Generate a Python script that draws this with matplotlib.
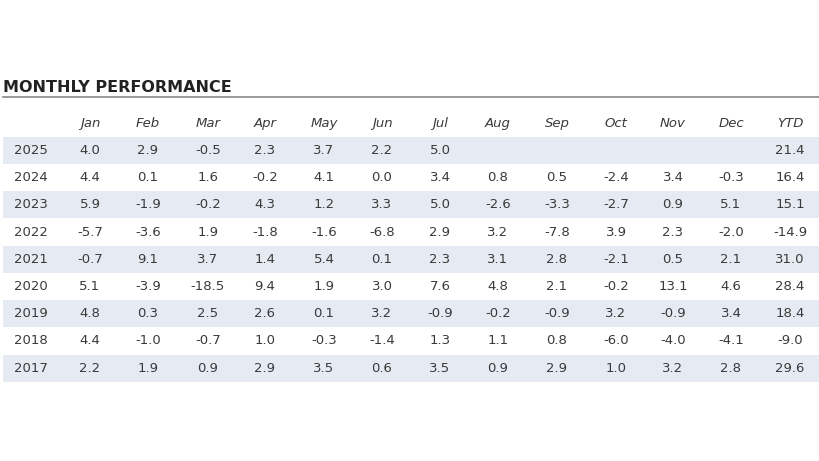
import matplotlib.pyplot as plt
from matplotlib.patches import Rectangle

months = ["Jan","Feb","Mar","Apr","May","Jun","Jul","Aug","Sep","Oct","Nov","Dec","YTD"]
years = ["2025","2024","2023","2022","2021","2020","2019","2018","2017"]
values = [
 ["4.0","2.9","-0.5","2.3","3.7","2.2","5.0","","","","","","21.4"],
 ["4.4","0.1","1.6","-0.2","4.1","0.0","3.4","0.8","0.5","-2.4","3.4","-0.3","16.4"],
 ["5.9","-1.9","-0.2","4.3","1.2","3.3","5.0","-2.6","-3.3","-2.7","0.9","5.1","15.1"],
 ["-5.7","-3.6","1.9","-1.8","-1.6","-6.8","2.9","3.2","-7.8","3.9","2.3","-2.0","-14.9"],
 ["-0.7","9.1","3.7","1.4","5.4","0.1","2.3","3.1","2.8","-2.1","0.5","2.1","31.0"],
 ["5.1","-3.9","-18.5","9.4","1.9","3.0","7.6","4.8","2.1","-0.2","13.1","4.6","28.4"],
 ["4.8","0.3","2.5","2.6","0.1","3.2","-0.9","-0.2","-0.9","3.2","-0.9","3.4","18.4"],
 ["4.4","-1.0","-0.7","1.0","-0.3","-1.4","1.3","1.1","0.8","-6.0","-4.0","-4.1","-9.0"],
 ["2.2","1.9","0.9","2.9","3.5","0.6","3.5","0.9","2.9","1.0","3.2","2.8","29.6"],
]

fig = plt.figure(figsize=(8.2, 4.61), dpi=100)
ax = fig.add_axes([0, 0, 1, 1])
ax.set_xlim(0, 820); ax.set_ylim(461, 0); ax.axis("off")

tc = "#3a3a3a"
ax.text(3, 88, "MONTHLY PERFORMANCE", fontsize=11.5, fontweight="bold", color="#222222", va="center", ha="left")
ax.plot([3, 820], [97, 97], color="#888888", lw=1.2)

xs = [90,148,208,265,324,382,440,498,557,616,673,731,790]
for x, m in zip(xs, months):
    ax.text(x, 123, m, fontsize=9.5, style="italic", color=tc, ha="center", va="center")

y0, dy = 150.5, 27.2
for i, (yr, row) in enumerate(zip(years, values)):
    y = y0 + i*dy
    if i % 2 == 0:
        ax.add_patch(Rectangle((3, y-dy/2), 817, dy, color="#e6eaf2", lw=0))
    ax.text(31, y, yr, fontsize=9.5, color=tc, ha="center", va="center")
    for x, v in zip(xs, row):
        ax.text(x, y, v, fontsize=9.5, color=tc, ha="center", va="center")

fig.savefig("out.png", dpi=100)
